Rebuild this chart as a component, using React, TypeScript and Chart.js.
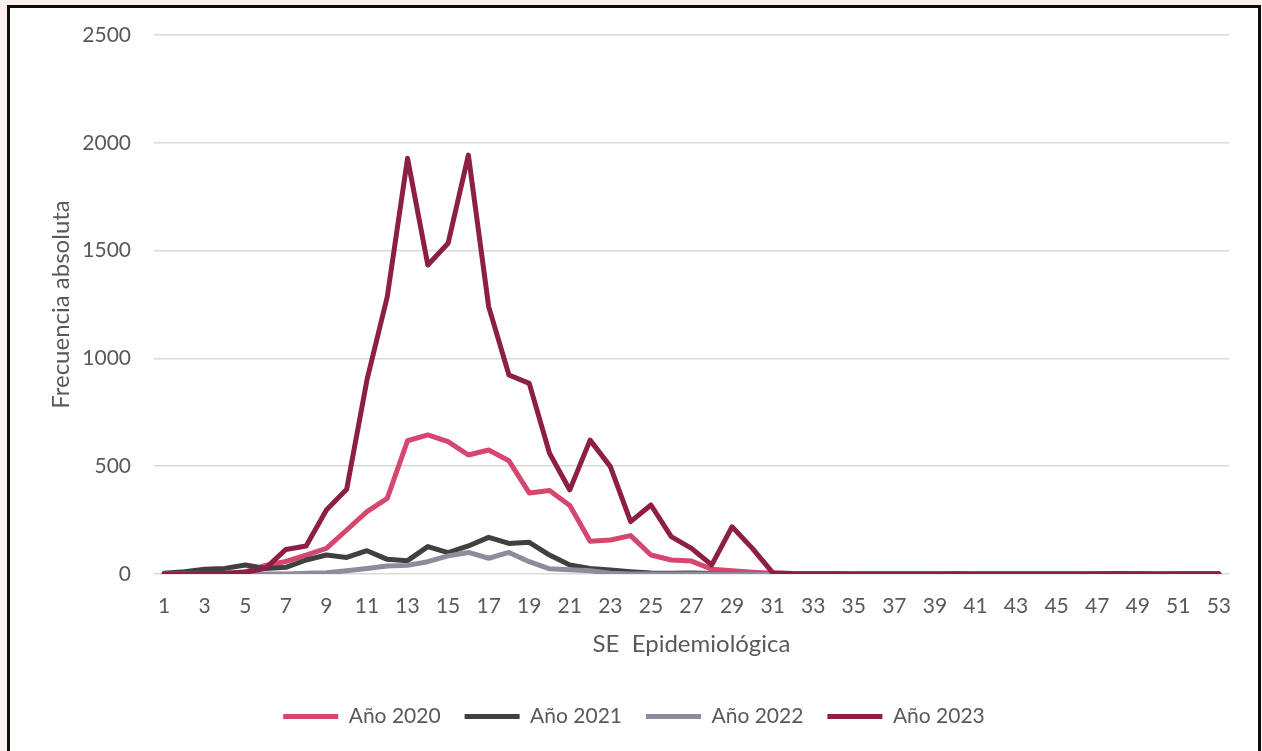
import React, { useEffect, useRef } from "react";
import { Chart, registerables } from "chart.js";

Chart.register(...registerables);

const weeks: string[] = Array.from({ length: 53 }, (_, i) => String(i + 1));

const y2020: number[] = [0, 0, 0, 2, 10, 40, 58, 88, 119, 204, 289, 351, 618, 645, 614, 552, 575, 525, 376, 387, 318, 152, 158, 178, 88, 65, 60, 22, 15, 8, 3, 0, 0, 0, 0, 0, 0, 0, 0, 0, 0, 0, 0, 0, 0, 0, 0, 0, 0, 0, 0, 0, 0];
const y2021: number[] = [3, 11, 22, 26, 42, 26, 31, 65, 88, 77, 108, 68, 62, 127, 99, 130, 170, 142, 147, 88, 42, 26, 19, 11, 5, 3, 5, 2, 1, 0, 0, 0, 0, 0, 0, 0, 0, 0, 0, 0, 0, 0, 0, 0, 0, 0, 0, 0, 0, 0, 0, 0, 0];
const y2022: number[] = [0, 0, 0, 0, 0, 0, 0, 3, 6, 15, 26, 37, 40, 57, 84, 100, 73, 100, 57, 24, 20, 15, 3, 0, 0, 0, 0, 0, 0, 0, 0, 0, 0, 0, 0, 0, 0, 0, 0, 0, 0, 0, 0, 0, 0, 0, 0, 0, 0, 0, 0, 0, 0];
const y2023: number[] = [0, 0, 2, 3, 8, 26, 114, 130, 297, 393, 900, 1286, 1928, 1433, 1534, 1943, 1240, 923, 884, 560, 390, 621, 498, 243, 320, 173, 119, 42, 219, 119, 6, 2, 1, 1, 0, 0, 0, 0, 0, 1, 0, 0, 0, 0, 0, 0, 1, 2, 1, 0, 1, 1, 1];

const seriesLabels: string[] = ["Año 2020", "Año 2021", "Año 2022", "Año 2023"];
const seriesColors: string[] = ["#D6476F", "#404040", "#8E8C9C", "#8C1F42"];

const FONT = "Lato, 'Open Sans', sans-serif";
const TEXT = "#595959";

export default function App() {
  const ref = useRef<HTMLCanvasElement | null>(null);

  useEffect(() => {
    if (!ref.current) return;
    const values = [y2020, y2021, y2022, y2023];
    const chart = new Chart(ref.current, {
      type: "line",
      data: {
        labels: weeks,
        datasets: values.map((v, i) => ({
          label: seriesLabels[i],
          data: v,
          borderColor: seriesColors[i],
          backgroundColor: seriesColors[i],
          borderWidth: 5,
          pointRadius: 0,
          tension: 0,
          borderCapStyle: "round" as const,
          borderJoinStyle: "round" as const,
          order: 3 - i,
        })),
      },
      options: {
        responsive: false,
        animation: false,
        layout: { padding: { top: 27, right: 29, bottom: 14, left: 29 } },
        plugins: {
          tooltip: { enabled: false },
          legend: {
            position: "bottom",
            labels: {
              usePointStyle: true,
              pointStyle: "line",
              pointStyleWidth: 55,
              padding: 24,
              color: TEXT,
              font: { family: FONT, size: 21 },
              sort: (a: any, b: any) => a.datasetIndex - b.datasetIndex,
            },
          },
        },
        scales: {
          x: {
            offset: true,
            grid: { display: false, drawTicks: false },
            border: { display: false },
            ticks: {
              autoSkip: false,
              maxRotation: 0,
              padding: 20,
              color: TEXT,
              font: { family: FONT, size: 21 },
              callback: (_v: any, i: number) => (i % 2 === 0 ? weeks[i] : ""),
            },
            title: {
              display: true,
              text: "SE  Epidemiológica",
              color: TEXT,
              font: { family: FONT, size: 24 },
              padding: { top: 0, bottom: 23 },
            },
            afterFit: (s: any) => {
              s.height = 108;
            },
          },
          y: {
            min: 0,
            max: 2500,
            grid: { color: "#D9D9D9", lineWidth: 1.5, drawTicks: false },
            border: { display: false },
            ticks: {
              stepSize: 500,
              padding: 23,
              color: TEXT,
              font: { family: FONT, size: 21 },
              callback: (v: any) => String(v),
            },
            title: {
              display: true,
              text: "Frecuencia absoluta",
              color: TEXT,
              font: { family: FONT, size: 24 },
              padding: { top: 8, bottom: 0 },
            },
            afterFit: (s: any) => {
              s.width = 115;
              s.paddingTop = 13;
              s.paddingBottom = 13;
            },
          },
        },
      },
    });
    return () => chart.destroy();
  }, []);

  return (
    <>
      <div style={{ position: "fixed", inset: 0, background: "#F9EFED" }} />
      <div
        style={{
          position: "fixed",
          left: 7,
          top: 5,
          width: 1254,
          height: 800,
          boxSizing: "border-box",
          border: "3px solid #0d0d0d",
          background: "#ffffff",
        }}
      >
        <canvas ref={ref} width={1248} height={743} style={{ display: "block" }} />
      </div>
    </>
  );
}
